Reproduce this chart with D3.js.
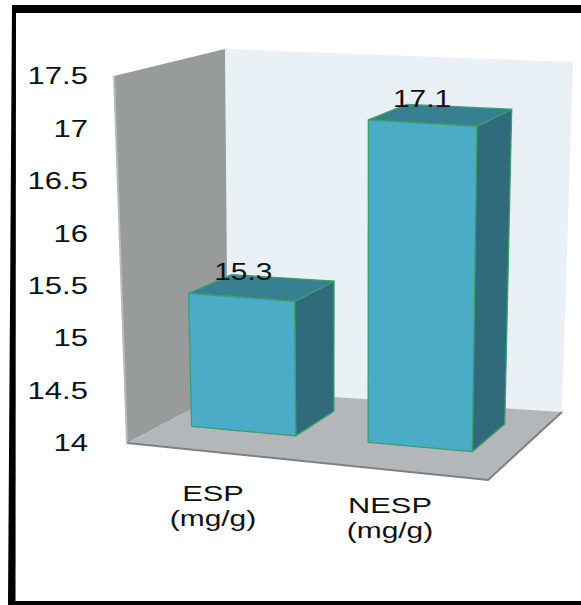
<!DOCTYPE html>
<html>
<head>
<meta charset="utf-8">
<script src="https://cdn.jsdelivr.net/npm/d3@7"></script>
<style>
  html, body { margin: 0; padding: 0; background: #ffffff; }
  svg { display: block; }
  text { font-family: "Liberation Sans", Arial, sans-serif; fill: #111; }
</style>
</head>
<body>
<svg id="chart" width="581" height="605"></svg>
<script>
// ---- data ----
const categories = ["ESP", "NESP"];
const unitLabel = "(mg/g)";
const values = [15.3, 17.1];
const yTicks = [14, 14.5, 15, 15.5, 16, 16.5, 17, 17.5];

const svg = d3.select("#chart");

// ---- 3-D box: front plane and back plane corners on screen ----
const frontPlane = { bl: [127, 443], br: [488, 480], tl: [114, 76], tr: [493, 101] };
const backPlane  = { bl: [228, 390], br: [562, 412], tl: [225, 49], tr: [573, 62] };

const lerp = (a, b, t) => [a[0] + (b[0] - a[0]) * t, a[1] + (b[1] - a[1]) * t];
function quad(q, u, v) {
  const bottom = lerp(q.bl, q.br, u);
  const top = lerp(q.tl, q.tr, u);
  return lerp(bottom, top, v);
}
// u: across categories (0..1), v: value (0..1), w: depth (0 front .. 1 back)
function project(u, v, w) {
  return lerp(quad(frontPlane, u, v), quad(backPlane, u, v), w);
}

const yScale = d3.scaleLinear().domain([14, 17.5]).range([0, 1]);
const xBand = d3.scaleBand().domain(categories).range([0, 1])
  .paddingInner(0.41).paddingOuter(0.2).align(0.4);
const barDepth = [0.36, 0.78];

const line = d3.line();
const poly = pts => line(pts) + "Z";

// ---- walls and floor ----
const walls = svg.append("g");
walls.append("path")
  .attr("d", poly([project(0, 0, 1), project(1, 0, 1), project(1, 1, 1), project(0, 1, 1)]))
  .attr("fill", "#e9f0f6");
walls.append("path")
  .attr("d", poly([project(0, 0, 0), project(0, 0, 1), project(0, 1, 1), project(0, 1, 0)]))
  .attr("fill", "#979b9c");
walls.append("path")
  .attr("d", line([project(0, 0, 0), project(0, 1, 0)]))
  .attr("stroke", "#b9bcbe").attr("stroke-width", 2).attr("fill", "none");
walls.append("path")
  .attr("d", poly([project(0, 0, 0), project(1, 0, 0), project(1, 0, 1), project(0, 0, 1)]))
  .attr("fill", "#b4b7b9");
walls.append("path")
  .attr("d", line([project(0, 0, 0), project(1, 0, 0), project(1, 0, 1)]))
  .attr("stroke", "#7e8183").attr("stroke-width", 2).attr("fill", "none");

// ---- columns ----
const bars = svg.append("g")
  .attr("stroke", "#3a9f6e").attr("stroke-width", 1.3).attr("stroke-linejoin", "round");

categories.forEach((cat, i) => {
  const u0 = xBand(cat), u1 = u0 + xBand.bandwidth();
  const v = yScale(values[i]);
  const [w0, w1] = barDepth;
  const g = bars.append("g");
  g.append("path")
    .attr("d", poly([project(u1, 0, w0), project(u1, 0, w1), project(u1, v, w1), project(u1, v, w0)]))
    .attr("fill", "#2f6b7b");
  g.append("path")
    .attr("d", poly([project(u0, v, w0), project(u1, v, w0), project(u1, v, w1), project(u0, v, w1)]))
    .attr("fill", "#37808f");
  g.append("path")
    .attr("d", poly([project(u0, 0, w0), project(u1, 0, w0), project(u1, v, w0), project(u0, v, w0)]))
    .attr("fill", "#4aacc6");

  const c = project((u0 + u1) / 2, v, (w0 + w1) / 2);
  svg.append("text")
    .attr("transform", `translate(${c[0] - 19},${c[1] - 8}) scale(1.3,1)`)
    .attr("text-anchor", "middle")
    .attr("font-size", 23)
    .text(values[i].toFixed(1));
});

// ---- value axis labels along the front-left edge ----
svg.append("g").selectAll("text").data(yTicks).join("text")
  .attr("transform", d => `translate(88,${project(0, yScale(d), 0)[1]}) scale(1.35,1)`)
  .attr("text-anchor", "end")
  .attr("dy", "0.36em")
  .attr("font-size", 23)
  .text(d => d);

// ---- category labels ----
const labelX = d3.scalePoint().domain(categories).range([213, 390]);
const labelY = d3.scalePoint().domain(categories).range([501, 513]);
const catLabels = svg.append("g").selectAll("g").data(categories).join("g")
  .attr("transform", d => `translate(${labelX(d)},${labelY(d)})`);
catLabels.append("text")
  .attr("transform", "scale(1.4,1)")
  .attr("text-anchor", "middle").attr("font-size", 22)
  .text(d => d);
catLabels.append("text")
  .attr("transform", "translate(0,25) scale(1.36,1)")
  .attr("text-anchor", "middle").attr("font-size", 22)
  .text(unitLabel);

// ---- outer frame ----
const frame = svg.append("g").attr("fill", "#000");
frame.append("rect").attr("x", 13).attr("y", 5).attr("width", 568).attr("height", 8);
frame.append("path").attr("d", poly([[12, 5], [16, 5], [15.5, 605], [8, 605]]));
frame.append("rect").attr("x", 8).attr("y", 601).attr("width", 573).attr("height", 4);
</script>
</body>
</html>
